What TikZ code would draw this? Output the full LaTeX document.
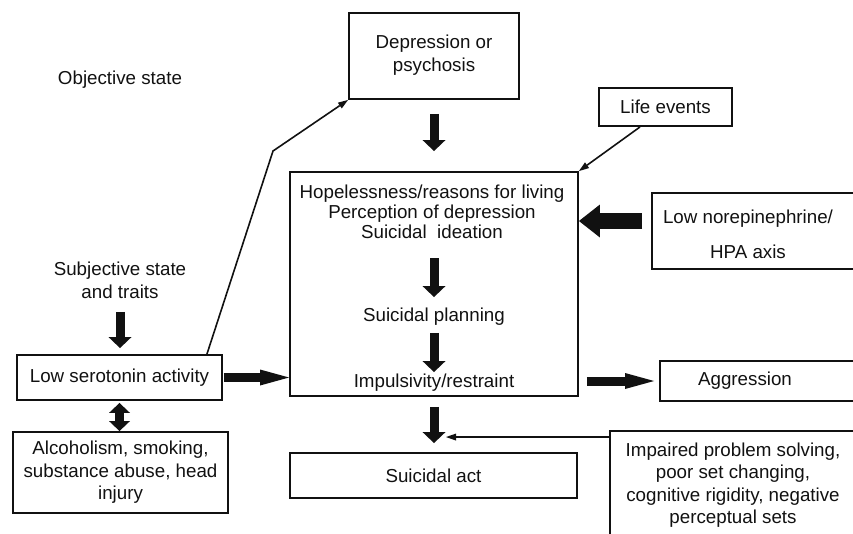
\documentclass[tikz,border=0pt]{standalone}
\usepackage{fontspec}
\setmainfont{Liberation Sans}
\usepackage{tikz}
\usetikzlibrary{calc,arrows.meta,positioning}
\definecolor{inkx}{HTML}{111111}
\tikzset{
  box/.style={draw=inkx,line width=1.9pt,align=center,inner sep=0pt,text=inkx,font=\fontsize{18.75}{22.5}\selectfont},
  txt/.style={align=center,inner sep=0pt,text=inkx,font=\fontsize{18.75}{22.5}\selectfont},
  fat/.style={-{Triangle[length=11pt,width=23pt,line width=0pt]},line width=9pt,inkx},
  fatboth/.style={<->,>={Triangle[length=10pt,width=21pt,line width=0pt]},line width=9pt,inkx},
  wide/.style={-{Triangle[length=29pt,width=16pt,line width=0pt]},line width=9pt,inkx},
  big/.style={-{Triangle[length=21pt,width=33pt,line width=0pt]},line width=16pt,inkx},
  ln/.style={-{Triangle[length=10pt,width=7pt,line width=0pt]},line width=1.6pt,inkx}
}
\begin{document}
\begin{tikzpicture}[x=1pt,y=-1pt]
\useasboundingbox (0,0) rectangle (853,533);
\clip (0,0) rectangle (853,533);
% left column
\node[txt] (obj) at (120,80) {Objective state};
\node[txt] (subj) at (120,280.5) {Subjective state\\and traits};
\node[box,minimum width=205pt,minimum height=45pt] (ser) at (119.5,377.5) {Low serotonin activity};
\node[box,minimum width=215pt,minimum height=81pt] (alc) at (120.5,472.5) {Alcoholism, smoking,\\substance abuse, head\\injury};
% centre column
\node[box,minimum width=170pt,minimum height=86pt,text depth=6pt] (dep) at (434,56) {Depression or\\psychosis};
\node[box,minimum width=288pt,minimum height=224pt] (main) at (434,284) {};
\node[txt,font=\fontsize{18.75}{20}\selectfont] (hope) at (432,212) {Hopelessness/reasons for living\\Perception of depression\\Suicidal\ \ ideation};
\node[txt] (plan) at (434,317) {Suicidal planning};
\node[txt] (imp) at (434,383) {Impulsivity/restraint};
\node[box,minimum width=287pt,minimum height=45pt] (act) at (433.5,475.5) {Suicidal act};
% right column (cut off at the edge)
\node[box,minimum width=133pt,minimum height=38pt] (life) at (665.5,107) {Life events};
\node[box,minimum width=218pt,minimum height=76pt] (nor) at (761,231) {};
\node[txt] (nortx) at (748,234.5) {Low norepinephrine/\\[12.5pt]HPA axis};
\node[box,minimum width=210pt,minimum height=40pt] (agg) at (765,381) {};
\node[txt] (aggtx) at (745,381) {Aggression};
\node[box,minimum width=270pt,minimum height=130pt] (pbs) at (745,496) {};
\node[txt] (pbstx) at (733,485) {Impaired problem solving,\\poor set changing,\\cognitive rigidity, negative\\perceptual sets};
% block arrows
\draw[fat,shorten <=14pt,shorten >=20pt] (dep.south) -- (main.north);
\draw[fat,shorten <=19pt,shorten >=11pt] (plan.north |- hope.south) -- (plan.north);
\draw[fat,shorten <=7pt,shorten >=2pt] (plan.south) -- (imp.north);
\draw[fat,shorten <=10pt,shorten >=9pt] (main.south) -- (main.south |- act.north);
\draw[fat,shorten <=13pt,shorten >=6pt] (subj.south) -- (subj.south |- ser.north);
\draw[fatboth,shorten <=2pt] (ser.south) -- (ser.south |- alc.north);
\draw[wide,shorten <=1pt] (ser.east) -- (ser.east -| main.west);
\draw[wide,shorten <=8pt,shorten >=5pt] (agg.west -| main.east) -- (agg.west);
\coordinate (norin) at ([yshift=10pt]nor.west);
\draw[big,shorten <=9pt] (norin) -- (norin -| main.east);
% thin arrows
\coordinate (bend) at (273,151);
\draw[ln] ([xshift=-16pt]ser.north east) -- (bend) -- (dep.south west);
\draw[ln] ([xshift=-25.5pt]life.south) -- (main.north east);
\coordinate (pbsin) at ([yshift=-7pt]pbs.north west);
\draw[ln,shorten >=12pt] (pbsin) -- (pbsin -| main.south);
\end{tikzpicture}
\end{document}
